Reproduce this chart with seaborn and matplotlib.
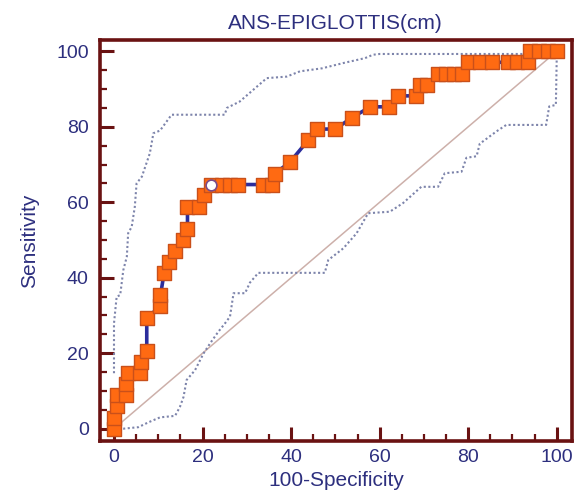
import matplotlib
matplotlib.use("Agg")
import matplotlib.pyplot as plt
from matplotlib.ticker import MultipleLocator
import numpy as np
import pandas as pd
import seaborn as sns

# ROC curve (x = 100-Specificity, y = Sensitivity)
roc_fpr = [0, 0, 0.6, 0.6, 2.6, 2.6, 3.2, 5.9, 6.2, 7.4, 7.4, 10.5, 10.5, 11.3,
           12.4, 13.8, 15.6, 16.6, 16.6, 19.2, 20.3, 21.8, 24.3, 26.2, 28.1,
           33.7, 35.6, 36.3, 39.7, 43.9, 45.9, 50.0, 53.7, 57.9, 62.1, 64.2,
           68.3, 69.1, 70.6, 73.2, 75.0, 76.8, 78.5, 80.0, 82.6, 85.3, 89.0,
           91.0, 93.5, 93.9, 96.0, 98.0, 100.0]
roc_tpr = [0, 2.9, 5.9, 8.8, 8.8, 11.8, 14.7, 14.7, 17.6, 20.6, 29.4, 32.4,
           35.3, 41.2, 44.1, 47.1, 50.0, 52.9, 58.8, 58.8, 61.8, 64.7, 64.7,
           64.7, 64.7, 64.7, 64.7, 67.6, 70.6, 76.5, 79.4, 79.4, 82.4, 85.3,
           85.3, 88.2, 88.2, 91.2, 91.2, 94.1, 94.1, 94.1, 94.1, 97.1, 97.1,
           97.1, 97.1, 97.1, 97.1, 100, 100, 100, 100]
crit_fpr = [21.8]
crit_tpr = [64.7]

# confidence bounds (dotted)
upper_fpr = [0, 0, 0.6, 1.4, 2.1, 2.9, 3.2, 4.0, 4.7, 5.1, 6.3, 8.1, 8.9, 10.4,
             13.0, 25.0, 25.5, 28.4, 34.5, 39.0, 42.0, 47.0, 51.8, 56.7, 58.5,
             60.0, 92.8, 93.5, 100]
upper_tpr = [14.7, 27.9, 35.0, 35.4, 42.0, 45.6, 51.8, 53.5, 58.8, 65.0, 66.8,
             73.0, 78.3, 79.0, 83.2, 83.2, 85.0, 86.7, 92.9, 93.3, 94.7, 95.5,
             96.9, 98.2, 99.1, 99.3, 99.3, 100, 100]
lower_fpr = [0, 2.1, 5.5, 7.8, 10.4, 13.8, 14.9, 15.7, 16.4, 18.3, 20.2, 21.7,
             23.5, 25.0, 26.2, 27.0, 29.6, 30.7, 32.6, 47.6, 48.4, 51.8, 54.8,
             57.4, 62.3, 65.3, 69.4, 73.2, 74.7, 78.5, 79.6, 81.9, 82.6, 86.4,
             88.6, 97.6, 98.3, 99.8, 100, 100]
lower_tpr = [0, 0, 0.4, 1.7, 3.0, 3.4, 5.8, 8.4, 12.9, 15.5, 19.9, 22.6, 25.6,
             27.8, 29.7, 35.9, 35.9, 38.7, 41.3, 41.3, 44.7, 47.8, 51.8, 57.1,
             57.5, 59.8, 64.1, 64.1, 67.7, 68.1, 71.8, 72.2, 75.5, 78.8, 80.5,
             80.5, 85.4, 85.8, 98.6, 100]

title = "ANS-EPIGLOTTIS(cm)"
xlabel = "100-Specificity"
ylabel = "Sensitivity"
ticks = [0, 20, 40, 60, 80, 100]

navy = "#2d2f7e"
maroon = "#6a1212"

sns.set_style("ticks")
plt.rcParams["font.family"] = ["Liberation Sans", "DejaVu Sans"]

fig = plt.figure(figsize=(5.77, 4.94), dpi=100)
ax = fig.add_axes([0.173, 0.107, 0.818, 0.812])

roc = pd.DataFrame({"x": roc_fpr, "y": roc_tpr})
up = pd.DataFrame({"x": upper_fpr, "y": upper_tpr})
lo = pd.DataFrame({"x": lower_fpr, "y": lower_tpr})

ax.plot([0, 100], [0, 100], color="#cdb0aa", lw=1.1, zorder=1)
for band in (up, lo):
    sns.lineplot(data=band, x="x", y="y", sort=False, estimator=None, ax=ax,
                 color="#7d84ab", lw=1.5, linestyle=(0, (1, 1.2)), zorder=2)
sns.lineplot(data=roc, x="x", y="y", sort=False, estimator=None, ax=ax,
             color="#2b2d9c", lw=2.6, zorder=3)
sns.scatterplot(data=roc, x="x", y="y", ax=ax, marker="s", s=90,
                color="#ff6a12", edgecolor="#c9501a", linewidth=1.0, zorder=4)
ax.scatter(crit_fpr, crit_tpr, s=60, marker="o", color="white",
           edgecolor="#7a4a8a", linewidth=1.2, zorder=5)

ax.set_xlim(-3.2, 103.4)
ax.set_ylim(-3.3, 103)
ax.set_xticks(ticks)
ax.set_yticks(ticks)
ax.xaxis.set_minor_locator(MultipleLocator(5))
ax.yaxis.set_minor_locator(MultipleLocator(5))
ax.tick_params(which="major", direction="in", length=10, width=2.2,
               color=maroon, labelcolor=navy, labelsize=14, pad=8)
ax.tick_params(which="minor", direction="in", length=5, width=1.6,
               color=maroon)
ax.tick_params(axis="x", pad=6)
ax.tick_params(top=False, right=False, which="both")
for sp in ax.spines.values():
    sp.set_visible(True)
    sp.set_color(maroon)
    sp.set_linewidth(2.6)

ax.set_title(title, color=navy, fontsize=15, pad=8)
ax.set_xlabel(xlabel, color=navy, fontsize=15, labelpad=3)
ax.set_ylabel(ylabel, color=navy, fontsize=15, labelpad=12)

fig.savefig("out.png", dpi=100)
